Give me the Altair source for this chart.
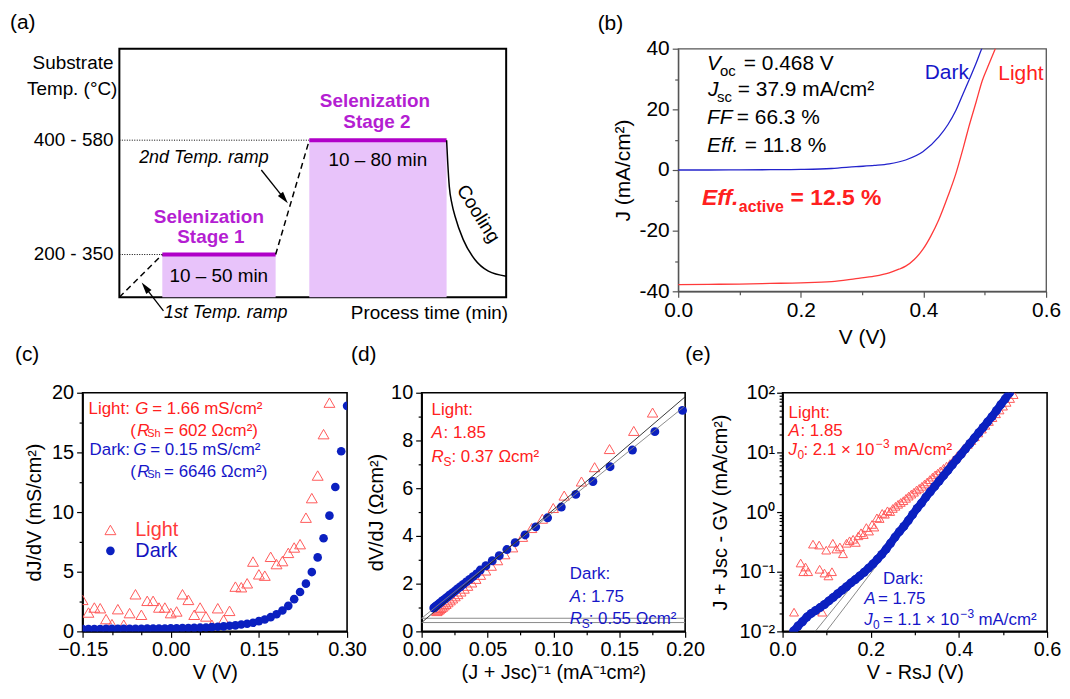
import json
import altair as alt
import pandas as pd

FONT = "Liberation Sans"
RED = "#ff2020"
BLUE = "#1616c8"
TRI = "#ff5a5a"
DOT = "#0b20c0"
PURPLE_T = "#b41ed2"
PURPLE_L = "#b000c8"
PURPLE_F = "#e8c3fa"

# ---------------- (a) process schematic (arbitrary units 0-100) ----------------
A_STAGE_START = [11.1, 49.1]
A_STAGE_END = [40.4, 84.6]
A_STAGE_TEMP = [17.2, 63.2]
A_RAMP_T = [0.0, 11.1, 40.4, 49.1]
A_RAMP_Y = [0.0, 17.2, 17.2, 63.2]
A_RAMP_ID = ["r1", "r1", "r2", "r2"]
A_COOL_T = [84.6, 84.9, 85.3, 86.0, 86.8, 88.9, 91.9, 95.4, 100.0]
A_COOL_Y = [63.2, 54.0, 44.5, 37.5, 32.5, 23.2, 15.2, 10.5, 8.5]
A_ARROW_T = [36.7, 42.6, 11.4, 6.7]
A_ARROW_Y = [51.2, 39.7, -5.5, 4.0]
A_ARROW_ID = ["a2", "a2", "a1", "a1"]

# ---------------- (b) J-V curves ----------------
B_DARK_V = [0.0, 0.05, 0.1, 0.15, 0.2, 0.25, 0.29, 0.32, 0.344, 0.371, 0.399, 0.425, 0.44, 0.453, 0.465, 0.474, 0.486, 0.496, 0.50]
B_DARK_J = [0.0, 0.0, 0.05, 0.1, 0.2, 0.5, 1.1, 1.5, 2.0, 3.3, 6.0, 10.9, 15.0, 19.7, 25.3, 29.5, 35.3, 40.4, 42.0]
B_LIGHT_V = [0.0, 0.05, 0.1, 0.15, 0.2, 0.25, 0.29, 0.32, 0.344, 0.36, 0.371, 0.385, 0.399, 0.412, 0.425, 0.44, 0.453, 0.465, 0.474, 0.486, 0.496, 0.507, 0.518]
B_LIGHT_J = [-37.8, -37.7, -37.6, -37.4, -37.2, -36.8, -35.8, -35.0, -33.9, -32.7, -31.7, -29.5, -26.2, -21.8, -16.4, -8.6, -1.1, 7.4, 14.2, 22.5, 29.5, 35.0, 40.4]

# ---------------- (c) dJ/dV ----------------
C_LIGHT_V = [-0.15, -0.14, -0.13, -0.12, -0.11, -0.10, -0.09, -0.08, -0.07, -0.06, -0.05, -0.04, -0.03, -0.02, -0.01,
             0.00, 0.01, 0.02, 0.03, 0.04, 0.05, 0.06, 0.07, 0.08, 0.09, 0.10, 0.11, 0.12, 0.13, 0.14, 0.15, 0.16,
             0.17, 0.18, 0.19, 0.20, 0.21, 0.22, 0.23, 0.24, 0.25, 0.26, 0.27]
C_LIGHT_G = [2.64, 1.58, 2.0, 1.94, 1.03, 0.61, 1.86, 0.56, 1.53, 3.11, 1.39, 2.56, 2.56, 2.0, 2.0,
             1.53, 1.67, 3.11, 2.64, 1.39, 2.0, 1.25, 0.56, 1.94, 0.97, 1.72, 3.75, 3.7, 4.03, 5.85, 4.78, 4.67,
             6.25, 5.64, 5.89, 6.58, 7.03, 7.31, 9.53, 11.17, 13.06, 16.53, 19.17]
C_DARK_V = [-0.15, -0.14, -0.13, -0.12, -0.11, -0.10, -0.09, -0.08, -0.07, -0.06, -0.05, -0.04, -0.03, -0.02, -0.01,
            0.00, 0.01, 0.02, 0.03, 0.04, 0.05, 0.06, 0.07, 0.08, 0.09, 0.10, 0.11, 0.12, 0.13, 0.14, 0.15, 0.16,
            0.17, 0.18, 0.19, 0.20, 0.21, 0.22, 0.23, 0.24, 0.25, 0.26, 0.27, 0.28, 0.29, 0.30]
C_DARK_G = [0.20, 0.20, 0.20, 0.20, 0.21, 0.21, 0.21, 0.21, 0.22, 0.22, 0.22, 0.23, 0.23, 0.24, 0.24,
            0.25, 0.26, 0.27, 0.28, 0.29, 0.31, 0.33, 0.36, 0.39, 0.42, 0.47, 0.50, 0.58, 0.64, 0.72, 0.86, 1.0,
            1.19, 1.44, 1.75, 2.14, 2.7, 3.3, 4.0, 4.97, 6.2, 7.8, 9.7, 12.1, 15.1, 18.9]

# ---------------- (d) dV/dJ vs 1/(J+Jsc) ----------------
D_DARK_X = [0.0092, 0.0100, 0.0109, 0.0118, 0.0128, 0.0139, 0.0150, 0.0162, 0.0175, 0.0189, 0.0204, 0.0220,
            0.0237, 0.0255, 0.0274, 0.0294, 0.0316, 0.0339, 0.0364, 0.0390, 0.0417, 0.0445, 0.0488, 0.0536,
            0.0589, 0.0647, 0.0710, 0.0785, 0.0866, 0.0956, 0.106, 0.117, 0.130, 0.143, 0.160, 0.177, 0.198]
D_DARK_Y = [0.98, 1.02, 1.06, 1.10, 1.14, 1.19, 1.24, 1.30, 1.35, 1.41, 1.48, 1.55,
            1.62, 1.70, 1.79, 1.87, 1.97, 2.07, 2.18, 2.29, 2.41, 2.57, 2.75, 2.96,
            3.17, 3.43, 3.72, 4.04, 4.38, 4.76, 5.21, 5.74, 6.28, 6.90, 7.60, 8.37, 9.26]
D_LIGHT_X = [0.0115, 0.0124, 0.0134, 0.0145, 0.0157, 0.0170, 0.0184, 0.0199, 0.0216, 0.0234, 0.0253, 0.0274,
             0.0297, 0.0322, 0.0349, 0.0379, 0.0411, 0.0446, 0.0485, 0.0528, 0.0576, 0.0630, 0.0690, 0.0765,
             0.0835, 0.0916, 0.0999, 0.1082, 0.1213, 0.1313, 0.1426, 0.161, 0.1753]
D_LIGHT_Y = [0.85, 0.89, 0.93, 0.98, 1.03, 1.09, 1.15, 1.22, 1.30, 1.38, 1.47, 1.56,
             1.67, 1.79, 1.91, 2.05, 2.20, 2.37, 2.55, 2.75, 2.98, 3.23, 3.52, 3.96,
             4.33, 4.72, 5.17, 5.69, 6.28, 6.88, 7.64, 8.40, 9.17]
D_FIT_X = [0.0, 0.2]
D_FIT_LIGHT_Y = [0.37, 9.83]
D_FIT_DARK_Y = [0.55, 9.45]
D_RS = [0.37, 0.55]

# ---------------- (e) semilog diode plot ----------------
E_DARK_V = [0.025, 0.035, 0.045, 0.055, 0.065, 0.075, 0.085, 0.095, 0.105, 0.115, 0.125, 0.135, 0.145, 0.155,
            0.165, 0.175, 0.185, 0.195, 0.205, 0.215, 0.225, 0.235, 0.245, 0.255, 0.265, 0.275, 0.285, 0.295,
            0.305, 0.315, 0.325, 0.335, 0.345, 0.355, 0.365, 0.375, 0.385, 0.395, 0.405, 0.415, 0.425, 0.435,
            0.445, 0.455, 0.465, 0.475, 0.485, 0.495, 0.505, 0.515]
E_DARK_J = [0.0102, 0.0123, 0.0145, 0.0174, 0.0200, 0.0224, 0.0251, 0.0282, 0.0324, 0.0372, 0.0427, 0.049, 0.056,
            0.065, 0.074, 0.085, 0.098, 0.115, 0.135, 0.162, 0.195, 0.24, 0.30, 0.38, 0.47, 0.575, 0.72, 0.91,
            1.15, 1.41, 1.78, 2.19, 2.69, 3.31, 4.07, 5.0, 6.2, 7.6, 9.3, 11.5, 14.1, 17.4,
            21.4, 26.3, 32.4, 39.8, 50.0, 63.0, 79.0, 100.0]
E_LIGHT_V = [0.026, 0.090, 0.041, 0.047, 0.052, 0.058, 0.084, 0.095, 0.104, 0.112, 0.069, 0.083, 0.099, 0.114,
             0.122, 0.13, 0.137, 0.145, 0.152, 0.16, 0.166, 0.172, 0.178, 0.184, 0.19, 0.196, 0.203, 0.208, 0.214,
             0.22, 0.226, 0.232, 0.238, 0.244, 0.25, 0.256, 0.262, 0.268, 0.274, 0.28, 0.286, 0.292, 0.298, 0.304,
             0.31, 0.316, 0.322, 0.328, 0.334, 0.34, 0.346, 0.352, 0.358, 0.365, 0.372, 0.38, 0.388, 0.396, 0.404,
             0.412, 0.42, 0.428, 0.436, 0.444, 0.452, 0.46, 0.468, 0.476, 0.484, 0.492, 0.5, 0.508, 0.516, 0.524]
E_LIGHT_J = [0.021, 0.021, 0.14, 0.10, 0.12, 0.10, 0.11, 0.095, 0.085, 0.10, 0.29, 0.28, 0.23, 0.30,
             0.24, 0.26, 0.20, 0.30, 0.33, 0.35, 0.31, 0.40, 0.45, 0.42, 0.55, 0.48, 0.62, 0.56, 0.80,
             0.78, 0.95, 0.92, 1.05, 1.02, 1.15, 1.25, 1.35, 1.45, 1.55, 1.7, 1.85, 2.0, 2.15, 2.35,
             2.5, 2.7, 2.95, 3.2, 3.5, 3.85, 4.2, 4.5, 4.9, 5.4, 5.9, 6.5, 7.5, 8.7, 10.1,
             11.8, 13.6, 15.8, 18.3, 21.2, 24.6, 28.5, 33.0, 38.3, 44.4, 51.4, 59.6, 69.0, 80.0, 93.0]
E_FIT_LIGHT_V = [0.074, 0.512]
E_FIT_DARK_V = [0.099, 0.513]
E_FIT_J = [0.01, 100.0]

ONE = pd.DataFrame({"k": [0]})


def T(text, x, y, size=20, color="black", style="normal", weight="normal", align="left", angle=None):
    kw = dict(text=text, align=align, baseline="middle", fontSize=size, font=FONT, color=color,
              fontStyle=style, fontWeight=weight)
    if angle is not None:
        kw["angle"] = angle
    return alt.Chart(ONE).mark_text(**kw).encode(x=alt.value(x), y=alt.value(y))


def anchor(x, y):
    # invisible layout anchor (fixes the bounding box used by the concat layout)
    return alt.Chart(ONE).mark_point(opacity=0, size=1).encode(x=alt.value(x), y=alt.value(y))


def axis(values, majors, lab, title, lsize=20, tsize=20, lpad=2, tpad=5, color="black", dwidth=1.6):
    cond = "indexof(%s, datum.value) >= 0" % json.dumps(majors)
    return alt.Axis(values=values, labelExpr="(%s) ? (%s) : ''" % (cond, lab),
                    tickSize={"condition": {"test": cond, "value": 6}, "value": 3.5},
                    title=title, grid=False, labelFont=FONT, labelFontSize=lsize, labelColor="black",
                    labelPadding=lpad, labelFlush=False, labelOverlap=False, titleFont=FONT,
                    titleFontSize=tsize, titleFontWeight="normal", titleColor="black", titlePadding=tpad,
                    domainColor=color, domainWidth=dwidth, tickColor=color, tickWidth=1.2)


# ================= panel (a) =================
def ax_(f):
    return alt.X(f"{f}:Q", scale=alt.Scale(domain=[0, 100], nice=False, zero=False), axis=None)


def ay_(f):
    return alt.Y(f"{f}:Q", scale=alt.Scale(domain=[0, 100], nice=False, zero=False), axis=None)


stages = pd.DataFrame({"t0": A_STAGE_START, "t1": A_STAGE_END, "temp": A_STAGE_TEMP})
dots = pd.DataFrame({"t0": [0.0, 0.0], "t1": A_STAGE_START, "temp": A_STAGE_TEMP})
ramps = pd.DataFrame({"t": A_RAMP_T, "temp": A_RAMP_Y, "seg": A_RAMP_ID})
cool = pd.DataFrame({"t": A_COOL_T, "temp": A_COOL_Y})
arrows = pd.DataFrame({"t": A_ARROW_T, "temp": A_ARROW_Y, "seg": A_ARROW_ID})
head1 = pd.DataFrame({"t": [A_ARROW_T[1]], "temp": [A_ARROW_Y[1]]})
head2 = pd.DataFrame({"t": [A_ARROW_T[3]], "temp": [A_ARROW_Y[3]]})
HEAD = "M0,-1L0.55,1L-0.55,1Z"

A_layers = [
    alt.Chart(stages).mark_rect(color=PURPLE_F).encode(x=ax_("t0"), x2="t1", y=ay_("temp"), y2=alt.datum(0)),
    alt.Chart(dots).mark_rule(color="black", strokeWidth=1, strokeDash=[1, 1.5]).encode(x=ax_("t0"), x2="t1", y=ay_("temp")),
    alt.Chart(stages).mark_rule(color=PURPLE_L, strokeWidth=4).encode(x=ax_("t0"), x2="t1", y=ay_("temp")),
    alt.Chart(ramps).mark_line(color="black", strokeWidth=1.5, strokeDash=[6, 4]).encode(x=ax_("t"), y=ay_("temp"), detail="seg:N"),
    alt.Chart(cool).mark_line(color="black", strokeWidth=1.5, interpolate="monotone").encode(x=ax_("t"), y=ay_("temp")),
    alt.Chart(arrows).mark_line(color="black", strokeWidth=1.3).encode(x=ax_("t"), y=ay_("temp"), detail="seg:N"),
    alt.Chart(head1).mark_point(shape=HEAD, filled=True, color="black", opacity=1, size=144, angle=141.8).encode(x=ax_("t"), y=ay_("temp")),
    alt.Chart(head2).mark_point(shape=HEAD, filled=True, color="black", opacity=1, size=144, angle=322.8).encode(x=ax_("t"), y=ay_("temp")),
    T("(a)", -110, -26, 21),
    T("Substrate", -6, 14, 19, align="right"),
    T("Temp. (°C)", -2, 41, 19, align="right"),
    T("400 - 580", -6, 92, 19, align="right"),
    T("200 - 350", -6, 207, 19, align="right"),
    T("Selenization", 90, 169, 19, PURPLE_T, weight="bold", align="center"),
    T("Stage 1", 92, 189, 19, PURPLE_T, weight="bold", align="center"),
    T("Selenization", 257, 53, 19, PURPLE_T, weight="bold", align="center"),
    T("Stage 2", 259, 74, 19, PURPLE_T, weight="bold", align="center"),
    T("10 – 50 min", 100, 229, 19, align="center"),
    T("10 – 80 min", 260, 112, 19, align="center"),
    T("2nd Temp. ramp", 85, 110, 18, style="italic", align="center"),
    T("1st Temp. ramp", 107, 266, 18, style="italic", align="center"),
    T("Process time (min)", 391, 266, 19, align="right"),
    T("Cooling", 361, 166, 19, align="center", angle=58),
]
A = alt.layer(*A_layers).properties(width=389, height=250,
                                    view=alt.ViewBackground(stroke="black", strokeWidth=2))

# ================= panel (b) =================
bxa = axis([0.0, 0.1, 0.2, 0.3, 0.4, 0.5, 0.6], [0.0, 0.2, 0.4, 0.6], "format(datum.value, '.1f')", "V (V)",
           lsize=21, tsize=21, lpad=2, tpad=6, color="#555", dwidth=1.3)
bya = axis([-40, -30, -20, -10, 0, 10, 20, 30, 40], [-40, -20, 0, 20, 40], "'' + datum.value", "J (mA/cm²)",
           lsize=21, tsize=21, lpad=3, tpad=6, color="#555", dwidth=1.3)


def bx(f):
    return alt.X(f"{f}:Q", scale=alt.Scale(domain=[0, 0.6], nice=False, zero=False), axis=bxa)


def by(f):
    return alt.Y(f"{f}:Q", scale=alt.Scale(domain=[-40, 40], nice=False, zero=False), axis=bya)


b_dark = pd.DataFrame({"V": B_DARK_V, "J": B_DARK_J})
b_light = pd.DataFrame({"V": B_LIGHT_V, "J": B_LIGHT_J})
B_layers = [
    alt.Chart(b_dark).mark_line(color="#2323cc", strokeWidth=1.3, clip=True, interpolate="monotone").encode(x=bx("V"), y=by("J")),
    alt.Chart(b_light).mark_line(color="#ff3a3a", strokeWidth=1.3, clip=True, interpolate="monotone").encode(x=bx("V"), y=by("J")),
    T("(b)", -81, -25, 21),
    T("V", 29, 15, 21, style="italic"),
    T("oc", 42, 22, 15),
    T("= 0.468 V", 66, 15, 21),
    T("J", 30, 42, 21, style="italic"),
    T("sc", 39, 49, 15),
    T("= 37.9 mA/cm²", 60, 42, 21),
    T("FF", 29, 70, 21, style="italic"),
    T("= 66.3 %", 59, 70, 21),
    T("Eff.", 29, 98, 21, style="italic"),
    T("= 11.8 %", 67, 98, 21),
    T("Dark", 248, 24, 21, BLUE),
    T("Light", 322, 25, 21, RED),
    T("Eff.", 24, 150, 23, RED, style="italic", weight="bold"),
    T("active", 61, 159, 16, RED, weight="bold"),
    T("= 12.5 %", 113, 150, 23, RED, weight="bold"),
    anchor(0, 310),
]
B = alt.layer(*B_layers).properties(width=370, height=244,
                                    view=alt.ViewBackground(stroke="#555", strokeWidth=1.3))

# ================= panel (c) =================
cxa = axis([-0.15, -0.1, -0.05, 0.0, 0.05, 0.1, 0.15, 0.2, 0.25, 0.3], [-0.15, 0.0, 0.15, 0.3],
           "format(datum.value, '.2f')", "V (V)", lsize=20, tsize=20, lpad=2, tpad=3)
cya = axis([0, 2.5, 5, 7.5, 10, 12.5, 15, 17.5, 20], [0, 5, 10, 15, 20], "'' + datum.value",
           "dJ/dV (mS/cm²)", lsize=20, tsize=20, lpad=3, tpad=7)


def cx(f):
    return alt.X(f"{f}:Q", scale=alt.Scale(domain=[-0.15, 0.3], nice=False, zero=False), axis=cxa)


def cy(f):
    return alt.Y(f"{f}:Q", scale=alt.Scale(domain=[0, 20], nice=False, zero=False), axis=cya)


c_light = pd.DataFrame({"V": C_LIGHT_V, "G": C_LIGHT_G})
c_dark = pd.DataFrame({"V": C_DARK_V, "G": C_DARK_G})
C_layers = [
    alt.Chart(c_light).mark_point(shape="triangle-up", filled=False, color=TRI, opacity=1, strokeWidth=1, size=120, clip=True).encode(x=cx("V"), y=cy("G")),
    alt.Chart(c_dark).mark_circle(color=DOT, opacity=1, size=75, clip=True).encode(x=cx("V"), y=cy("G")),
    # legend keys
    alt.Chart(ONE).mark_point(shape="triangle-up", filled=False, color=TRI, opacity=1, strokeWidth=1, size=120).encode(x=alt.value(28), y=alt.value(138)),
    alt.Chart(ONE).mark_circle(color=DOT, opacity=1, size=75).encode(x=alt.value(28), y=alt.value(159)),
    T("Light", 53, 138, 20, "#ff3b3b"),
    T("Dark", 53, 159, 20, "#1414c0"),
    T("(c)", -68, -38, 21),
    T("Light:", 6, 16, 17, RED),
    T("G", 53, 16, 17, RED, style="italic"),
    T("= 1.66 mS/cm²", 70, 16, 17, RED),
    T("(", 48, 39, 17, RED),
    T("R", 55, 39, 17, RED, style="italic"),
    T("Sh", 65, 42, 11, RED),
    T("= 602 Ωcm²)", 82, 39, 17, RED),
    T("Dark:", 7, 58, 17, BLUE),
    T("G", 51, 58, 17, BLUE, style="italic"),
    T("= 0.15 mS/cm²", 68, 58, 17, BLUE),
    T("(", 48, 80, 17, BLUE),
    T("R", 55, 80, 17, BLUE, style="italic"),
    T("Sh", 65, 83, 11, BLUE),
    T("= 6646 Ωcm²)", 82, 80, 17, BLUE),
    anchor(0, -60),
]
C = alt.layer(*C_layers).properties(width=266, height=240,
                                    view=alt.ViewBackground(stroke="black", strokeWidth=1.6))

# ================= panel (d) =================
dxa = axis([0.0, 0.025, 0.05, 0.075, 0.1, 0.125, 0.15, 0.175, 0.2], [0.0, 0.05, 0.1, 0.15, 0.2],
           "format(datum.value, '.2f')", "(J + Jsc)⁻¹ (mA⁻¹cm²)", lsize=20, tsize=20, lpad=2, tpad=3)
dya = axis([0, 1, 2, 3, 4, 5, 6, 7, 8, 9, 10], [0, 2, 4, 6, 8, 10], "'' + datum.value",
           "dV/dJ (Ωcm²)", lsize=20, tsize=20, lpad=3, tpad=4)


def dx(f):
    return alt.X(f"{f}:Q", scale=alt.Scale(domain=[0, 0.2], nice=False, zero=False), axis=dxa)


def dy(f):
    return alt.Y(f"{f}:Q", scale=alt.Scale(domain=[0, 10], nice=False, zero=False), axis=dya)


d_dark = pd.DataFrame({"X": D_DARK_X, "Y": D_DARK_Y})
d_light = pd.DataFrame({"X": D_LIGHT_X, "Y": D_LIGHT_Y})
d_fit_l = pd.DataFrame({"X": D_FIT_X, "Y": D_FIT_LIGHT_Y})
d_fit_d = pd.DataFrame({"X": D_FIT_X, "Y": D_FIT_DARK_Y})
d_rs = pd.DataFrame({"Y": D_RS})
D_layers = [
    alt.Chart(d_rs).mark_rule(color="#8a8a8a", strokeWidth=1).encode(y=dy("Y")),
    alt.Chart(d_light).mark_point(shape="triangle-up", filled=False, color=TRI, opacity=1, strokeWidth=1, size=110).encode(x=dx("X"), y=dy("Y")),
    alt.Chart(d_dark).mark_circle(color=DOT, opacity=1, size=80).encode(x=dx("X"), y=dy("Y")),
    alt.Chart(d_fit_d).mark_line(color="#808080", strokeWidth=0.9).encode(x=dx("X"), y=dy("Y")),
    alt.Chart(d_fit_l).mark_line(color="#222222", strokeWidth=0.9).encode(x=dx("X"), y=dy("Y")),
    T("(d)", -71, -38, 21),
    T("Light:", 10, 17, 17, RED),
    T("A", 10, 41, 17, RED, style="italic"),
    T(": 1.85", 22, 41, 17, RED),
    T("R", 10, 65, 17, RED, style="italic"),
    T("S", 22, 70, 12, RED),
    T(": 0.37 Ωcm²", 30, 65, 17, RED),
    T("Dark:", 149, 182, 17, BLUE),
    T("A", 149, 205, 17, BLUE, style="italic"),
    T(": 1.75", 161, 205, 17, BLUE),
    T("R", 149, 228, 17, BLUE, style="italic"),
    T("S", 161, 233, 12, BLUE),
    T(": 0.55 Ωcm²", 168, 228, 17, BLUE),
]
D = alt.layer(*D_layers).properties(width=265, height=240,
                                    view=alt.ViewBackground(stroke="black", strokeWidth=1.6))

# ================= panel (e) =================
LOG_TICKS = [round(m * 10.0 ** e, 6) for e in range(-2, 2) for m in range(1, 10)] + [100.0]
LOG_MAJ = [0.01, 0.1, 1.0, 10.0, 100.0]
log_lab = ("datum.value == 100 ? '10²' : datum.value == 10 ? '10¹' : datum.value == 1 ? '10⁰' : "
           "datum.value == 0.1 ? '10⁻¹' : '10⁻²'")
exa = axis([0.0, 0.1, 0.2, 0.3, 0.4, 0.5, 0.6], [0.0, 0.2, 0.4, 0.6], "format(datum.value, '.1f')",
           "V - RsJ (V)", lsize=20, tsize=20, lpad=2, tpad=3)
eya = axis(LOG_TICKS, LOG_MAJ, log_lab, "J + Jsc - GV (mA/cm²)", lsize=20, tsize=20, lpad=2, tpad=8)


def ex(f):
    return alt.X(f"{f}:Q", scale=alt.Scale(domain=[0, 0.6], nice=False, zero=False), axis=exa)


def ey(f):
    return alt.Y(f"{f}:Q", scale=alt.Scale(type="log", domain=[0.01, 100], nice=False), axis=eya)


e_dark = pd.DataFrame({"V": E_DARK_V, "J": E_DARK_J})
e_light = pd.DataFrame({"V": E_LIGHT_V, "J": E_LIGHT_J})
e_fit_l = pd.DataFrame({"V": E_FIT_LIGHT_V, "J": E_FIT_J})
e_fit_d = pd.DataFrame({"V": E_FIT_DARK_V, "J": E_FIT_J})
E_layers = [
    alt.Chart(e_light).mark_point(shape="triangle-up", filled=False, color=TRI, opacity=1, strokeWidth=1, size=80, clip=True).encode(x=ex("V"), y=ey("J")),
    alt.Chart(e_fit_l).mark_line(color="#555555", strokeWidth=0.7).encode(x=ex("V"), y=ey("J")),
    alt.Chart(e_fit_d).mark_line(color="#555555", strokeWidth=0.7).encode(x=ex("V"), y=ey("J")),
    alt.Chart(e_dark).mark_line(color=DOT, strokeWidth=8, strokeCap="round", clip=True).encode(x=ex("V"), y=ey("J")),
    alt.Chart(e_dark).mark_circle(color=DOT, opacity=1, size=80, clip=True).encode(x=ex("V"), y=ey("J")),
    T("(e)", -98, -38, 21),
    T("Light:", 6, 20, 17, RED),
    T("A", 6, 39, 17, RED, style="italic"),
    T(": 1.85", 18, 39, 17, RED),
    T("J", 6, 58, 17, RED, style="italic"),
    T("0", 15, 63, 12, RED),
    T(": 2.1 × 10", 21, 58, 17, RED),
    T("−3", 94, 52, 12, RED),
    T("mA/cm²", 112, 58, 17, RED),
    T("Dark:", 101, 187, 17, BLUE),
    T("A", 82, 207, 17, BLUE, style="italic"),
    T("= 1.75", 96, 207, 17, BLUE),
    T("J", 82, 229, 17, BLUE, style="italic"),
    T("0", 91, 234, 12, BLUE),
    T("= 1.1 × 10", 101, 229, 17, BLUE),
    T("−3", 179, 223, 12, BLUE),
    T("mA/cm²", 197, 229, 17, BLUE),
]
E = alt.layer(*E_layers).properties(width=266, height=240,
                                    view=alt.ViewBackground(stroke="black", strokeWidth=1.6))


# ================= layout =================
def spacer(w, h):
    return alt.Chart(ONE).mark_point(opacity=0).encode(
        x=alt.X("k:Q", axis=None), y=alt.Y("k:Q", axis=None)
    ).properties(width=w, height=h, view=alt.ViewBackground(stroke="transparent"))


top = alt.hconcat(spacer(37, 250), A, spacer(173, 250), B, spacing=0, bounds="flush")
bottom = alt.hconcat(C, spacer(75, 240), D, spacer(98, 240), E, spacing=0, bounds="flush")
chart = alt.vconcat(top, bottom, spacing=-28).properties(
    padding={"left": 1, "top": 1, "right": 0, "bottom": 0}, background="white"
).configure(font=FONT)

chart.save("out.html", embed_options={"renderer": "svg", "actions": False})
